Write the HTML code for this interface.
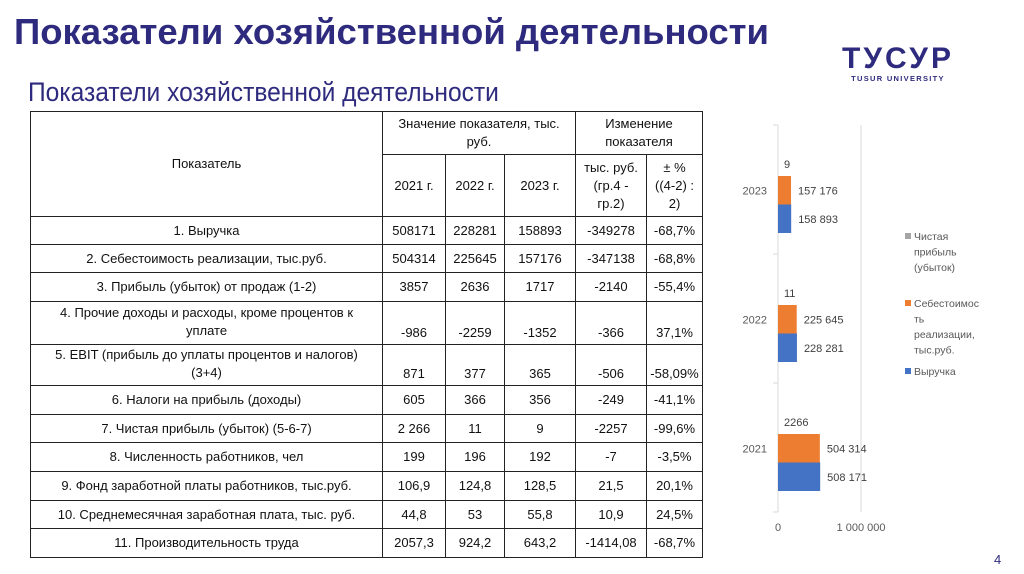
<!DOCTYPE html>
<html><head><meta charset="utf-8"><style>
body{margin:0;width:1024px;height:574px;background:#fff;position:relative;overflow:hidden;font-family:"Liberation Sans","Noto Sans CJK SC",sans-serif}
.t{position:absolute;left:30px;top:111px;border-collapse:collapse;table-layout:fixed;font-size:13px;color:#111}
.t td{border:1px solid #222;text-align:center;padding:0 2px;line-height:18px;overflow:hidden;white-space:nowrap}
.t tr.b td{vertical-align:bottom;padding-bottom:2px}
</style></head><body>
<div style="position:absolute;left:14px;top:11px;font-size:36.5px;font-weight:bold;color:#2e2a7e">Показатели хозяйственной деятельности</div>
<div style="position:absolute;left:838px;top:44px;color:#2e2a7e;text-align:center;width:120px">
<div style="font-size:30px;font-weight:bold;letter-spacing:3px;line-height:30px">ТУСУР</div>
<div style="font-size:7.5px;font-weight:bold;letter-spacing:1.3px">TUSUR UNIVERSITY</div></div>
<div style="position:absolute;left:28px;top:77px;font-size:27px;color:#2e2a7e;transform:scaleX(0.91);transform-origin:left">Показатели хозяйственной деятельности</div>
<table class="t">
<colgroup><col style="width:352px"><col style="width:63px"><col style="width:59px"><col style="width:71px"><col style="width:71px"><col style="width:56px"></colgroup>
<tr style="height:43px"><td rowspan="2">Показатель</td><td colspan="3">Значение показателя, тыс.<br>руб.</td><td colspan="2">Изменение<br>показателя</td></tr>
<tr style="height:62px"><td>2021 г.</td><td>2022 г.</td><td>2023 г.</td><td>тыс. руб.<br>(гр.4 -<br>гр.2)</td><td>± %<br>((4-2) :<br>2)</td></tr>
<tr style="height:28px"><td>1. Выручка</td><td>508171</td><td>228281</td><td>158893</td><td>-349278</td><td>-68,7%</td></tr>
<tr style="height:28px"><td>2. Себестоимость реализации, тыс.руб.</td><td>504314</td><td>225645</td><td>157176</td><td>-347138</td><td>-68,8%</td></tr>
<tr style="height:29px"><td>3. Прибыль (убыток) от продаж  (1-2)</td><td>3857</td><td>2636</td><td>1717</td><td>-2140</td><td>-55,4%</td></tr>
<tr class="b" style="height:43px"><td style="vertical-align:middle">4. Прочие доходы и расходы, кроме процентов к<br>уплате</td><td>-986</td><td>-2259</td><td>-1352</td><td>-366</td><td>37,1%</td></tr>
<tr class="b" style="height:41px"><td style="vertical-align:middle">5. EBIT (прибыль до уплаты процентов и налогов)<br>(3+4)</td><td>871</td><td>377</td><td>365</td><td>-506</td><td>-58,09%</td></tr>
<tr style="height:29px"><td>6. Налоги на прибыль (доходы)</td><td>605</td><td>366</td><td>356</td><td>-249</td><td>-41,1%</td></tr>
<tr style="height:28px"><td>7. Чистая прибыль (убыток)  (5-6-7)</td><td>2 266</td><td>11</td><td>9</td><td>-2257</td><td>-99,6%</td></tr>
<tr style="height:29px"><td>8. Численность работников, чел</td><td>199</td><td>196</td><td>192</td><td>-7</td><td>-3,5%</td></tr>
<tr style="height:29px"><td>9. Фонд заработной платы работников, тыс.руб.</td><td>106,9</td><td>124,8</td><td>128,5</td><td>21,5</td><td>20,1%</td></tr>
<tr style="height:28px"><td>10. Среднемесячная заработная плата, тыс. руб.</td><td>44,8</td><td>53</td><td>55,8</td><td>10,9</td><td>24,5%</td></tr>
<tr style="height:29px"><td>11. Производительность труда</td><td>2057,3</td><td>924,2</td><td>643,2</td><td>-1414,08</td><td>-68,7%</td></tr>
</table>
<svg id="chart" width="1024" height="574" style="position:absolute;left:0;top:0" font-family="Liberation Sans, sans-serif"></svg>
<div style="position:absolute;left:994px;top:552px;font-size:13px;color:#2e2a7e">4</div>
<script>
const years=['2023','2022','2021'];
const revenue=[158893,228281,508171];
const cost=[157176,225645,504314];
const profit=[9,11,2266];
const profitLabels=['9','11','2266'];
const ticks=[0,1000000];
const tickLabels=['0','1 000 000'];
const svg=document.getElementById('chart');
const NS='http://www.w3.org/2000/svg';
const x0=778,scale=83/1000000,top0=125,band=129;
const xs=v=>x0+v*scale;
function el(t,a,txt){const e=document.createElementNS(NS,t);for(const k in a)e.setAttribute(k,a[k]);if(txt!==undefined)e.textContent=txt;svg.appendChild(e);return e;}
const fmt=v=>String(v).replace(/\B(?=(\d{3})+(?!\d))/g,' ');
ticks.forEach((t,i)=>{
 const g=el('line',{x1:xs(t),x2:xs(t),y1:top0,y2:top0+band*3,stroke:'#d9d9d9','stroke-width':1});
 
 
 const l=el('text',{x:xs(t),y:top0+band*3+19,'font-size':11,fill:'#595959','text-anchor':'middle'},tickLabels[i]);
 
 
});
for(let i=0;i<=3;i++){const tk=el('line',{x1:x0-5,x2:x0,y1:top0+band*i,y2:top0+band*i,stroke:'#d9d9d9'});}
years.forEach((y,i)=>{
 const c=top0+band*i+band/2+15;
 const yl=el('text',{x:767,y:c-10,'font-size':11,fill:'#595959','text-anchor':'end'},y);
 
 
 const bh=28.5;
 const ob=el('rect',{x:x0,y:c-bh,width:xs(cost[i])-x0,height:bh,fill:'#ed7d31'});
 
 
 const bb=el('rect',{x:x0,y:c,width:xs(revenue[i])-x0,height:bh,fill:'#4472c4'});
 
 
 const gb=el('rect',{x:x0,y:c-bh-0.5,width:Math.max(0,xs(profit[i])-x0),height:0.5,fill:'#a5a5a5'});
 
 
 const t1=el('text',{x:xs(cost[i])+7,y:c-bh/2+4,'font-size':11,fill:'#404040'},fmt(cost[i]));
 
 
 const t2=el('text',{x:xs(revenue[i])+7,y:c+bh/2+4,'font-size':11,fill:'#404040'},fmt(revenue[i]));
 
 
 const t3=el('text',{x:x0+6,y:c-bh-8,'font-size':11,fill:'#404040'},profitLabels[i]);
 
 
});
const legend=[['#a5a5a5',['Чистая','прибыль','(убыток)'],238],['#ed7d31',['Себестоимос','ть','реализации,','тыс.руб.'],305],['#4472c4',['Выручка'],373]];
legend.forEach(([col,lines,y])=>{
 const r=el('rect',{x:905,y:y-5,width:6,height:6,fill:col});
 
 
 lines.forEach((s,j)=>{const t=el('text',{x:914,y:y+2+j*15.5,'font-size':10.5,fill:'#595959'},s);});
});
</script>
</body></html>
